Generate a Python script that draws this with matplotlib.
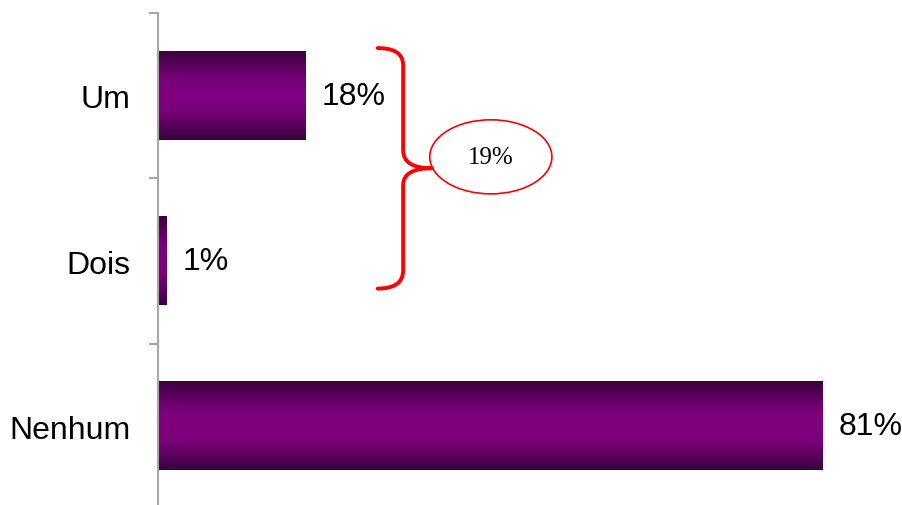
import matplotlib
matplotlib.use("Agg")
import matplotlib.pyplot as plt
import numpy as np
from matplotlib.colors import LinearSegmentedColormap
from matplotlib.path import Path
from matplotlib.patches import PathPatch, Ellipse

categories = ["Um", "Dois", "Nenhum"]
values = [18, 1, 81]
value_labels = ["18%", "1%", "81%"]
group_label = "19%"

plt.rcParams['font.family'] = ['Liberation Sans', 'DejaVu Sans']

fig = plt.figure(figsize=(9.03, 5.06), dpi=100)
ax = fig.add_axes([158 / 903, -4 / 506, 737.8 / 903, 496 / 506])

cmap = LinearSegmentedColormap.from_list(
    "bar", ["#3c003e", "#5a005c", "#7a007a", "#800080", "#7a007a", "#5a005c", "#3c003e"])
grad = np.linspace(0, 1, 256).reshape(-1, 1)
bar_h = 0.533
for i, (cat, v, lab) in enumerate(zip(categories, values, value_labels)):
    ax.imshow(grad, cmap=cmap, aspect='auto', interpolation='bilinear',
              extent=[0, v, i + bar_h / 2, i - bar_h / 2], zorder=2)
    ax.text(v + 2.0, i, lab, ha='left', va='center', fontsize=23, color='black')

ax.set_xlim(0, 90)
ax.set_ylim(2.5, -0.5)
ax.set_yticks([0, 1, 2])
ax.set_yticklabels(categories, fontsize=23)
ax.set_yticks([-0.5, 0.5, 1.5, 2.5], minor=True)
ax.tick_params(axis='y', which='major', length=0, pad=20)
ax.tick_params(axis='y', which='minor', length=6.5, width=1.5, color='#a6a6a6')
ax.set_xticks([])
for s in ['top', 'right', 'bottom']:
    ax.spines[s].set_visible(False)
ax.spines['left'].set_color('#a6a6a6')
ax.spines['left'].set_linewidth(1.5)

# bracket grouping Um + Dois
x0, x1, x2 = 26.8, 29.9, 33.4
verts = [(x0, -0.288), (x1, -0.288), (x1, -0.185),
         (x1, 0.330),
         (x1, 0.439), (x2, 0.439),
         (x1, 0.439), (x1, 0.542),
         (x1, 1.058),
         (x1, 1.167), (x0, 1.167)]
codes = [Path.MOVETO, Path.CURVE3, Path.CURVE3,
         Path.LINETO,
         Path.CURVE3, Path.CURVE3,
         Path.CURVE3, Path.CURVE3,
         Path.LINETO,
         Path.CURVE3, Path.CURVE3]
ax.add_patch(PathPatch(Path(verts, codes), fill=False, edgecolor='#ff0000',
                       linewidth=2.8, capstyle='round', joinstyle='round',
                       zorder=3, clip_on=False))
ax.add_patch(Ellipse((40.6, 0.37), 14.9, 0.448, fill=False, edgecolor='#ff0000',
                     linewidth=1.2, zorder=3, clip_on=False))
ax.text(40.6, 0.37, group_label, ha='center', va='center', fontsize=18,
        family=['Liberation Serif', 'DejaVu Serif'], color='black')

fig.savefig("out.png", dpi=100)
